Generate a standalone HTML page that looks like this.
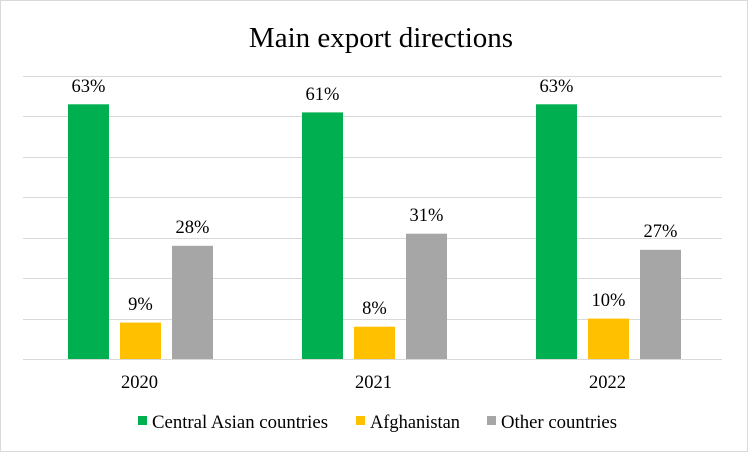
<!DOCTYPE html>
<html><head><style>body{margin:0}</style></head><body>
<svg width="748" height="452" xmlns="http://www.w3.org/2000/svg" font-family="Liberation Serif, serif">
<rect x="0.5" y="0.5" width="747" height="451" fill="#fff" stroke="#d9d9d9"/>
<text x="381" y="47" font-size="29" text-anchor="middle">Main export directions</text>
<g stroke="#d9d9d9" stroke-width="1">
<line x1="23" x2="722" y1="76.5" y2="76.5"/><line x1="23" x2="722" y1="116.5" y2="116.5"/>
<line x1="23" x2="722" y1="157.5" y2="157.5"/><line x1="23" x2="722" y1="197.5" y2="197.5"/>
<line x1="23" x2="722" y1="238.5" y2="238.5"/><line x1="23" x2="722" y1="278.5" y2="278.5"/>
<line x1="23" x2="722" y1="319.5" y2="319.5"/><line x1="23" x2="722" y1="359.5" y2="359.5"/>
</g>
<g>
<rect x="68" y="104.3" width="41" height="254.7" fill="#00b050"/>
<rect x="120" y="322.6" width="41" height="36.4" fill="#ffc000"/>
<rect x="172" y="245.8" width="41" height="113.2" fill="#a6a6a6"/>
<rect x="302" y="112.4" width="41" height="246.6" fill="#00b050"/>
<rect x="354" y="326.7" width="41" height="32.3" fill="#ffc000"/>
<rect x="406" y="233.7" width="41" height="125.3" fill="#a6a6a6"/>
<rect x="536" y="104.3" width="41" height="254.7" fill="#00b050"/>
<rect x="588" y="318.6" width="41" height="40.4" fill="#ffc000"/>
<rect x="640" y="249.8" width="41" height="109.2" fill="#a6a6a6"/>
</g>
<g font-size="18.5" text-anchor="middle">
<text x="88.5" y="92">63%</text><text x="140.5" y="310">9%</text><text x="192.5" y="233">28%</text>
<text x="322.5" y="100">61%</text><text x="374.5" y="314">8%</text><text x="426.5" y="221">31%</text>
<text x="556.5" y="92">63%</text><text x="608.5" y="306">10%</text><text x="660.5" y="237">27%</text>
<text x="139.5" y="388">2020</text><text x="373.5" y="388">2021</text><text x="607.5" y="388">2022</text>
</g>
<g font-size="18.5">
<rect x="138" y="416" width="9" height="9" fill="#00b050"/><text x="152" y="428" textLength="176" lengthAdjust="spacingAndGlyphs">Central Asian countries</text>
<rect x="356" y="416" width="9" height="9" fill="#ffc000"/><text x="370" y="428" textLength="90" lengthAdjust="spacingAndGlyphs">Afghanistan</text>
<rect x="487" y="416" width="9" height="9" fill="#a6a6a6"/><text x="501" y="428" textLength="116" lengthAdjust="spacingAndGlyphs">Other countries</text>
</g>
</svg>
</body></html>
